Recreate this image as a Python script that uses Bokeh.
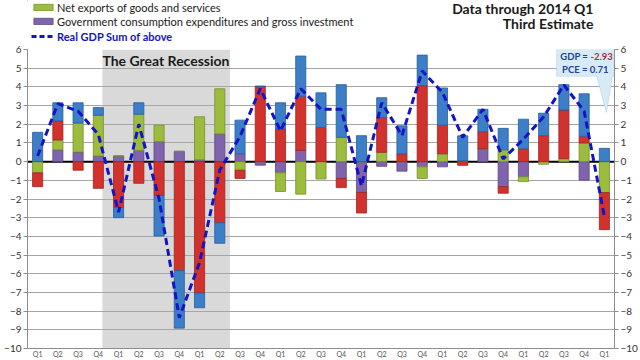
import numpy as np
from bokeh.plotting import figure
from bokeh.layouts import column
from bokeh.models import (Range1d, LinearAxis, FixedTicker, Span, Label,
                          ColumnDataSource, Legend, LegendItem, PolyAnnotation)
from bokeh.embed import file_html
from bokeh.resources import INLINE

# ---------------- data (percentage-point contributions to real GDP growth) -------------
quarters = ["2007 Q1", "2007 Q2", "2007 Q3", "2007 Q4",
            "2008 Q1", "2008 Q2", "2008 Q3", "2008 Q4",
            "2009 Q1", "2009 Q2", "2009 Q3", "2009 Q4",
            "2010 Q1", "2010 Q2", "2010 Q3", "2010 Q4",
            "2011 Q1", "2011 Q2", "2011 Q3", "2011 Q4",
            "2012 Q1", "2012 Q2", "2012 Q3", "2012 Q4",
            "2013 Q1", "2013 Q2", "2013 Q3", "2013 Q4",
            "2014 Q1"]
quarter_short = ["Q1", "Q2", "Q3", "Q4"] * 7 + ["Q1"]
gov = [0.00, 0.63, 0.51, 0.30, 0.30, 0.60, 1.07, 0.55, 0.10, 1.48,
       0.42, -0.19, -0.60, 0.60, 0.00, -0.90, -1.65, -0.25, -0.51, -0.28,
       -0.28, 0.00, 0.69, -1.34, -0.81, 0.00, 0.00, -0.99, 0.00]
netexp = [-0.60, 0.53, 1.55, 2.18, 0.00, 1.94, 0.88, 0.00, 2.30, 2.42,
          -0.46, 0.00, -1.00, -1.74, -0.93, 1.30, 0.00, 0.50, 0.00, -0.62,
          0.42, 0.05, 0.00, 0.63, -0.26, -0.14, 0.16, 1.00, -1.66]
invest = [-0.74, 1.02, -0.46, -1.43, -2.45, -1.16, -1.81, -5.83, -7.03, -3.27,
          -0.44, 4.03, 1.74, 2.90, 1.83, -0.49, -1.10, 1.86, 0.42, 4.07,
          1.53, -0.20, 0.91, -0.35, 0.69, 1.39, 2.60, 0.36, -1.98]
pce = [1.57, 0.97, 1.09, 0.41, -0.55, 0.61, -2.17, -3.08, -0.79, -1.10,
       1.80, 0.00, 1.41, 2.15, 1.85, 2.82, 1.39, 1.06, 1.50, 1.63,
       1.99, 1.33, 1.20, 1.15, 1.58, 1.20, 1.36, 2.27, 0.71]
gdp = [0.30, 3.10, 2.70, 1.45, -2.70, 2.00, -2.00, -8.35, -5.40, -0.45,
       1.35, 3.90, 1.65, 3.90, 2.80, 2.80, -1.30, 3.15, 1.40, 4.85,
       3.70, 1.30, 2.80, 0.15, 1.20, 2.40, 4.10, 2.70, -2.93]
y_ticks = list(range(-10, 7))

names = ["Personal consumption expenditures", "Gross private domestic investment",
         "Net exports of goods and services",
         "Government consumption expenditures and gross investment"]

BLUE, BLUE_D = "#3d7ec8", "#2b5d99"
RED, RED_D = "#d2322d", "#9e2420"
GREEN, GREEN_D = "#9cbc3d", "#74902a"
PURPLE, PURPLE_D = "#8063ad", "#5c4783"
LINE_BLUE = "#1414c4"
FONT = "Lato"

n = len(quarters)
x = np.arange(n) + 0.5

# ---------------- header strip: legend + title ----------------
TOP_H = 43
top = figure(width=640, height=TOP_H, x_range=Range1d(0, 640), y_range=Range1d(TOP_H, 0),
             output_backend="svg", toolbar_location=None,
             x_axis_location=None, y_axis_location=None,
             min_border=0, min_border_left=0, min_border_right=0,
             min_border_top=0, min_border_bottom=0)
top.outline_line_color = None
top.grid.visible = False

# legend proxies: one point each, far outside the visible header range
proxy = ColumnDataSource(dict(x=[-1000.0], top=[-1000.0], y=[-1000.0]))
lg_nx = top.vbar(x="x", top="top", width=1, source=proxy, fill_color=GREEN,
                 line_color=GREEN_D, line_width=0.8)
lg_gov = top.vbar(x="x", top="top", width=1, source=proxy, fill_color=PURPLE,
                  line_color=PURPLE_D, line_width=0.8)
lg_gdp = top.line(x="x", y="y", source=proxy, line_color=LINE_BLUE, line_width=3,
                  line_dash="5 3")

leg1 = Legend(items=[LegendItem(label=names[2], renderers=[lg_nx]),
                     LegendItem(label=names[3], renderers=[lg_gov])],
              location=(4, 15), orientation="vertical")
leg2 = Legend(items=[LegendItem(label="Real GDP Sum of above", renderers=[lg_gdp])],
              location=(4, 0), orientation="vertical")
for lg in (leg1, leg2):
    lg.background_fill_alpha = 0
    lg.border_line_alpha = 0
    lg.padding = 0
    lg.margin = 0
    lg.spacing = 0
    lg.glyph_width = 24
    lg.glyph_height = 8
    lg.label_height = 14
    lg.label_standoff = 2
    lg.label_text_font = FONT
    lg.label_text_font_size = "11px"
    lg.label_text_color = "#1a1a1a"
    lg.label_text_baseline = "middle"
leg2.label_text_color = LINE_BLUE
leg2.label_text_font_style = "bold"
top.add_layout(leg1)
top.add_layout(leg2)

top.add_layout(Label(x=617, y=8, text="Data through 2014 Q1", text_font=FONT,
                     text_font_style="bold", text_font_size="14px", text_color="#1a1a1a",
                     text_align="right", text_baseline="middle"))
top.add_layout(Label(x=617, y=23, text="Third Estimate", text_font=FONT,
                     text_font_style="bold", text_font_size="14px", text_color="#1a1a1a",
                     text_align="right", text_baseline="middle"))

# ---------------- main chart ----------------
p = figure(width=640, height=360 - TOP_H, x_range=Range1d(0, n), y_range=Range1d(-10, 6),
           output_backend="svg", toolbar_location=None,
           min_border_left=27, min_border_right=26, min_border_top=6, min_border_bottom=4)
p.outline_line_color = None
p.background_fill_color = "white"
p.xgrid.visible = False
p.ygrid.ticker = FixedTicker(ticks=y_ticks)
p.ygrid.grid_line_color = "#a6a6a6"
p.ygrid.grid_line_width = 1

def style_axis(ax):
    ax.ticker = FixedTicker(ticks=y_ticks)
    ax.axis_line_color = "#8c8c8c"
    ax.major_tick_line_color = "#8c8c8c"
    ax.major_tick_out = 4
    ax.major_tick_in = 0
    ax.minor_tick_line_color = None
    ax.major_label_standoff = 2
    ax.major_label_text_font = FONT
    ax.major_label_text_font_size = "10px"
    ax.major_label_text_color = "#333333"

style_axis(p.yaxis[0])
right_ax = LinearAxis()
style_axis(right_ax)
p.add_layout(right_ax, "right")

xa = p.xaxis[0]
xa.ticker = FixedTicker(ticks=list(x))
xa.major_label_overrides = {float(xi): q for xi, q in zip(x, quarter_short)}
xa.axis_line_color = "#8c8c8c"
xa.major_tick_line_color = None
xa.minor_tick_line_color = None
xa.major_tick_out = 0
xa.major_tick_in = 0
xa.major_label_standoff = 1
xa.major_label_text_font = FONT
xa.major_label_text_font_size = "7px"
xa.major_label_text_color = "#555555"

# recession shading
p.quad(left=[3.7], right=[10.0], bottom=[-10], top=[6], fill_color="#d9d9d9",
       line_color=None, level="image")
p.add_layout(Label(x=6.84, y=5.42, text="The Great Recession", text_font=FONT,
                   text_font_style="bold", text_font_size="14px", text_color="#1a1a1a",
                   text_align="center", text_baseline="middle"))

# diverging stacks
series = [(gov, PURPLE, PURPLE_D), (netexp, GREEN, GREEN_D),
          (invest, RED, RED_D), (pce, BLUE, BLUE_D)]
pos = np.zeros(n)
neg = np.zeros(n)
for vals, col, dcol in series:
    v = np.array(vals)
    bottom = np.where(v >= 0, pos, neg)
    top_v = bottom + v
    pos = np.where(v >= 0, top_v, pos)
    neg = np.where(v < 0, top_v, neg)
    src = ColumnDataSource(dict(x=x, bottom=bottom, top=top_v))
    p.vbar(x="x", bottom="bottom", top="top", width=0.5, source=src,
           fill_color=col, line_color=dcol, line_width=0.8)

p.add_layout(Span(location=0, dimension="width", line_color="black",
                  line_width=2, level="underlay"))

p.line(x, gdp, line_color=LINE_BLUE, line_width=3, line_dash="7 4")

# callout (kept inside the plotting frame)
p.add_layout(PolyAnnotation(xs=[26.14, 28.98, 28.98, 28.9, 28.6, 28.12, 26.14],
                            ys=[6.0, 6.0, 4.57, 4.57, 2.62, 4.57, 4.57],
                            fill_color="#d7ebf6", fill_alpha=1,
                            line_color="#86b9d6", line_width=1))
p.add_layout(Label(x=27.81, y=5.62, text="GDP = ", text_font=FONT, text_font_style="bold",
                   text_font_size="9.5px", text_color="#1f3f99", text_align="right",
                   text_baseline="middle"))
p.add_layout(Label(x=27.81, y=5.62, text=f"{gdp[-1]:.2f}", text_font=FONT,
                   text_font_style="bold", text_font_size="9.5px", text_color="#a3303a",
                   text_align="left", text_baseline="middle"))
p.add_layout(Label(x=27.56, y=4.95, text=f"PCE = {pce[-1]:.2f}", text_font=FONT,
                   text_font_style="bold", text_font_size="9.5px", text_color="#1f3f99",
                   text_align="center", text_baseline="middle"))

layout = column(top, p, spacing=0)
open("out.html", "w").write(file_html(layout, INLINE))
